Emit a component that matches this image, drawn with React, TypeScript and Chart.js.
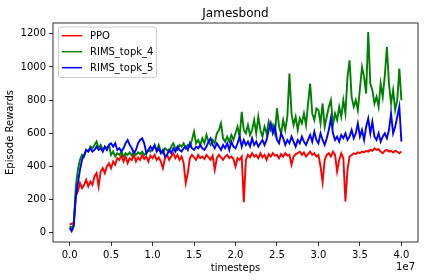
import React, { useEffect, useRef } from "react";
import { Chart, registerables } from "chart.js";

Chart.register(...registerables);

const TITLE = "Jamesbond";
const X_LABEL = "timesteps";
const Y_LABEL = "Episode Rewards";
const X_OFFSET_LABEL = "1e7";
const STEP = 250000;

const X_TICKS = [0, 5e6, 1e7, 1.5e7, 2e7, 2.5e7, 3e7, 3.5e7, 4e7];
const Y_TICKS = [0, 200, 400, 600, 800, 1000, 1200];

const SERIES_NAMES = ["PPO", "RIMS_topk_4", "RIMS_topk_5"];
const SERIES_COLORS = ["#ff0000", "#008000", "#0000ff"];

const PPO = [
  50, 55, 60, 220, 250, 300, 270, 290, 320, 280,
  310, 290, 340, 360, 280, 370, 390, 360, 400, 420,
  390, 430, 410, 450, 440, 470, 430, 460, 420, 450,
  440, 470, 430, 455, 440, 470, 445, 460, 430, 465,
  450, 470, 440, 455, 430, 390, 450, 470, 440, 460,
  480, 450, 470, 440, 460, 420, 300, 360, 450, 470,
  455, 440, 470, 450, 460, 445, 470, 455, 440, 465,
  380, 450, 470, 455, 440, 460, 470, 450, 460, 445,
  400, 450, 440, 460, 185, 440, 470, 455, 480, 460,
  470, 450, 480, 455, 470, 440, 475, 460, 480, 465,
  470, 450, 475, 460, 480, 465, 470, 410, 460, 475,
  480, 490, 470, 485, 460, 475, 490, 470, 480, 460,
  470, 400, 305, 440, 470, 480, 460, 490, 470, 370,
  440, 480, 450, 190, 380, 460, 470, 480, 475, 485,
  480, 490, 485, 495, 490, 500, 495, 510, 500, 505,
  490, 480, 495, 500, 490, 495, 485, 495, 490, 480,
  490,
];

const RIMS_TOPK_4 = [
  40, 30, 50, 280, 380, 440, 470, 460, 500, 490,
  520, 510, 530, 550, 510, 530, 500, 520, 510, 530,
  470, 490, 460, 480, 470, 490, 460, 480, 470, 485,
  465, 490, 470, 485, 475, 490, 470, 480, 500, 490,
  510, 520, 500, 530, 490, 480, 510, 500, 490, 520,
  540, 510, 500, 530, 520, 540, 510, 530, 520, 560,
  610, 540, 560, 530, 570, 540, 590, 550, 530, 560,
  540, 600, 620, 660, 570, 550, 580, 550, 590, 560,
  600, 640, 580, 730, 620, 600, 650, 590, 620, 680,
  600, 700, 620, 580, 640, 600, 670, 620, 650, 600,
  750, 640, 600, 680, 620, 700, 960, 720, 650, 700,
  620, 690, 660, 720, 650, 780, 900, 720, 680, 750,
  740, 660, 780, 640, 700, 760, 800, 650, 720, 680,
  760, 700, 800, 720, 940, 1040, 820, 760, 800, 740,
  870, 1000, 940, 840, 1210, 900, 860, 780, 820, 760,
  900, 820, 950, 1120, 900, 780, 860, 740, 800, 990,
  800,
];

const RIMS_TOPK_5 = [
  30, 10, 40, 220, 300, 380, 440, 470, 500, 490,
  510, 490, 500, 520, 500, 510, 490, 520, 500, 530,
  540, 520, 540, 500, 510, 490, 510, 540, 560, 530,
  510, 480, 500, 540, 560, 570, 540, 480, 500, 520,
  500, 530, 490, 510, 480, 500, 460, 470, 500, 480,
  510, 490, 520, 500, 490, 510, 520, 500, 540, 510,
  500, 520, 510, 530, 510, 500, 520, 550, 570, 530,
  510, 540, 520, 500, 530, 510, 540, 500, 550, 520,
  510, 540, 580, 520, 560, 530, 550, 520, 570, 530,
  550, 520, 540, 560, 530, 560, 620, 660, 600, 640,
  560, 540, 600, 570, 530, 560, 540, 580, 550, 520,
  560, 540, 580, 550, 530, 560, 590, 550, 610, 560,
  540, 600, 560, 530, 570, 620, 690, 600, 560, 580,
  550, 590, 570, 600, 560, 580, 620, 570, 600, 660,
  580, 620, 560, 640, 690, 600, 670, 580, 560, 600,
  550, 580, 600, 570, 620, 720, 600, 640, 700, 760,
  550,
];

const SERIES = [PPO, RIMS_TOPK_4, RIMS_TOPK_5];

const FONT = "DejaVu Sans";

const overlayPlugin = {
  id: "overlay",
  afterDatasetsDraw(chart: any) {
    const { ctx, chartArea: a } = chart;
    ctx.save();
    ctx.strokeStyle = "#000";
    ctx.lineWidth = 0.8;
    ctx.strokeRect(a.left, a.top, a.right - a.left, a.bottom - a.top);
    ctx.fillStyle = "#000";
    ctx.font = `12px "${FONT}"`;
    ctx.textAlign = "center";
    ctx.textBaseline = "alphabetic";
    ctx.fillText(TITLE, (a.left + a.right) / 2, a.top - 5.6);
    ctx.font = `10px "${FONT}"`;
    ctx.textAlign = "right";
    ctx.textBaseline = "middle";
    ctx.fillText(X_OFFSET_LABEL, a.right - 3, 267);
    const lx = a.left + 5.5;
    const ly = a.top + 4;
    const lw = 98;
    const lh = 50.5;
    ctx.beginPath();
    if ((ctx as any).roundRect) (ctx as any).roundRect(lx, ly, lw, lh, 2.5);
    else ctx.rect(lx, ly, lw, lh);
    ctx.fillStyle = "rgba(255,255,255,0.8)";
    ctx.fill();
    ctx.strokeStyle = "#cccccc";
    ctx.lineWidth = 1;
    ctx.stroke();
    SERIES_NAMES.forEach((name, i) => {
      const y = ly + 8.7 + i * 16;
      ctx.beginPath();
      ctx.strokeStyle = SERIES_COLORS[i];
      ctx.lineWidth = 1.5;
      ctx.moveTo(lx + 3.5, y);
      ctx.lineTo(lx + 23.5, y);
      ctx.stroke();
      ctx.fillStyle = "#000";
      ctx.font = `10px "${FONT}"`;
      ctx.textAlign = "left";
      ctx.textBaseline = "middle";
      ctx.fillText(name, lx + 31.5, y + 0.5);
    });
    ctx.restore();
  },
};

export default function App() {
  const ref = useRef<HTMLCanvasElement | null>(null);

  useEffect(() => {
    if (!ref.current) return;
    Chart.defaults.font.family = FONT;
    const datasets = SERIES.map((vals, i) => ({
      label: SERIES_NAMES[i],
      data: vals.map((v, j) => ({ x: j * STEP, y: v })),
      borderColor: SERIES_COLORS[i],
      backgroundColor: SERIES_COLORS[i],
      borderWidth: 1.9,
      pointRadius: 0,
      tension: 0,
      order: SERIES.length - i,
    }));
    const chart = new Chart(ref.current, {
      type: "line",
      data: { datasets },
      plugins: [overlayPlugin],
      options: {
        responsive: false,
        animation: false,
        devicePixelRatio: 1,
        layout: { padding: { left: 0, right: 6, top: 23, bottom: 0 } },
        plugins: {
          legend: { display: false },
          title: { display: false },
          tooltip: { enabled: false },
        },
        scales: {
          x: {
            type: "linear",
            min: -2000000,
            max: 42000000,
            afterBuildTicks: (s: any) => {
              s.ticks = X_TICKS.map((v) => ({ value: v }));
            },
            afterFit: (s: any) => {
              s.height = 38;
            },
            ticks: {
              color: "#000",
              font: { size: 10, family: FONT },
              padding: 3,
              maxRotation: 0,
              autoSkip: false,
              callback: (v: any) => (Number(v) / 1e7).toFixed(1),
            },
            grid: {
              display: true,
              drawOnChartArea: false,
              drawTicks: true,
              tickLength: 4,
              color: "#000",
              lineWidth: 0.8,
            },
            border: { display: false },
            title: {
              display: true,
              text: X_LABEL,
              color: "#000",
              font: { size: 10, family: FONT },
              padding: { top: 0, bottom: 6 },
            },
          },
          y: {
            type: "linear",
            min: -55,
            max: 1265,
            afterBuildTicks: (s: any) => {
              s.ticks = Y_TICKS.map((v) => ({ value: v }));
            },
            afterFit: (s: any) => {
              s.width = 53;
            },
            ticks: {
              color: "#000",
              font: { size: 10, family: FONT },
              padding: 3,
              autoSkip: false,
              callback: (v: any) => String(v),
            },
            grid: {
              display: true,
              drawOnChartArea: false,
              drawTicks: true,
              tickLength: 4,
              color: "#000",
              lineWidth: 0.8,
            },
            border: { display: false },
            title: {
              display: true,
              text: Y_LABEL,
              color: "#000",
              font: { size: 10, family: FONT },
              padding: { top: 4, bottom: 0 },
            },
          },
        },
      },
    } as any);
    return () => chart.destroy();
  }, []);

  return (
    <div style={{ position: "fixed", left: 0, top: 0, width: 424, height: 280, background: "#fff" }}>
      <canvas ref={ref} width={424} height={280} style={{ display: "block" }} />
    </div>
  );
}
